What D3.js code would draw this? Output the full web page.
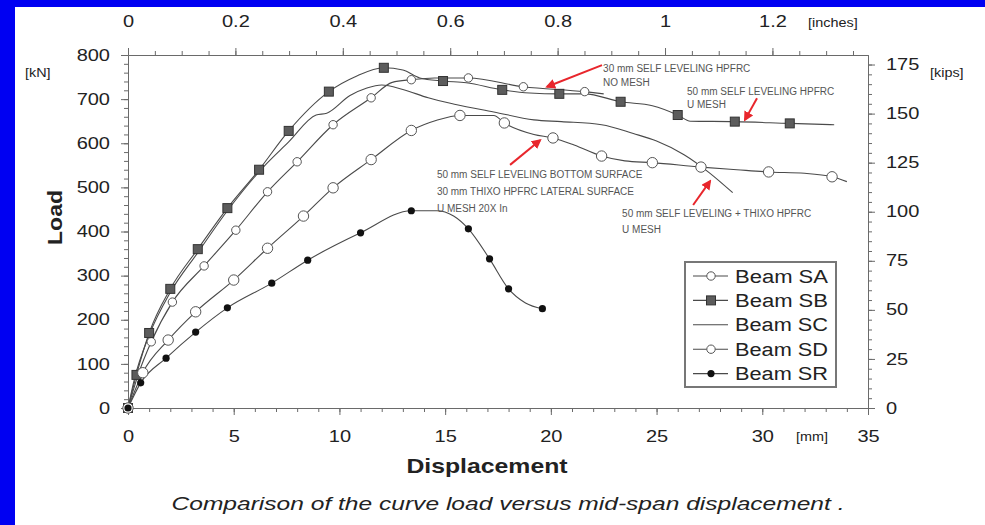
<!DOCTYPE html>
<html>
<head>
<meta charset="utf-8">
<script src="https://cdn.jsdelivr.net/npm/d3@7"></script>
<style>
  html, body { margin: 0; padding: 0; background: #fff; overflow: hidden; }
  svg { display: block; }
  text { font-family: "Liberation Sans", Arial, sans-serif; fill: #222; }
  .note { font-family: "Liberation Sans Narrow", "Liberation Sans", sans-serif; font-size: 10px; fill: #555; }
</style>
</head>
<body>
<svg id="chart" width="985" height="525"></svg>
<script>
// [displacement mm, load kN, marker?]
const beamSA = [
  [0, 0, 1], [0.5, 78, 1], [1.1, 150, 1], [2.1, 240, 1], [3.6, 322, 1], [5.1, 403, 1],
  [6.6, 490, 1], [8.0, 558, 1], [9.7, 642, 1], [11.5, 703, 1], [12.5, 738, 0], [13.4, 744, 1],
  [14.5, 748, 0], [16.1, 748, 1], [18.7, 728, 1], [21.6, 717, 1], [22.5, 712, 0]
]
const beamSB = [
  [0, 0, 1], [0.4, 75, 1], [1.0, 170, 1], [2.0, 270, 1], [3.3, 360, 1], [4.7, 453, 1],
  [6.2, 540, 1], [7.6, 628, 1], [9.5, 717, 1], [10.8, 752, 0], [12.1, 771, 1], [13.0, 766, 0],
  [13.8, 748, 0], [14.9, 741, 1], [16.0, 737, 0], [17.7, 721, 1], [19.0, 714, 0], [20.4, 712, 1],
  [21.6, 712, 0], [23.3, 694, 1], [24.8, 685, 0], [26.0, 664, 1], [26.6, 650, 0], [28.7, 649, 1],
  [31.3, 645, 1], [33.4, 642, 0]
]
const beamSC = [
  [0, 0, 0], [0.3, 65, 0], [1.0, 165, 0], [2.0, 262, 0], [3.3, 352, 0], [4.7, 447, 0],
  [6.4, 546, 0], [7.6, 603, 0], [8.9, 664, 0], [9.4, 668, 0], [10.5, 708, 0], [11.3, 725, 0],
  [12.0, 732, 0], [13.0, 722, 0], [14.2, 703, 0], [15.5, 688, 0], [17.3, 671, 0], [19.2, 653, 0],
  [20.5, 649, 0], [22.4, 642, 0], [23.9, 622, 0], [25.0, 605, 0], [26.3, 574, 0], [27.5, 533, 0],
  [28.6, 488, 0]
]
const beamSD = [
  [0, 0, 1], [0.7, 80, 1], [1.9, 154, 1], [3.2, 218, 1], [5.0, 290, 1], [6.6, 362, 1],
  [8.3, 435, 1], [9.7, 499, 1], [11.5, 563, 1], [13.4, 629, 1], [14.6, 652, 0], [15.7, 663, 1],
  [17.3, 663, 0], [17.8, 646, 1], [19.2, 620, 0], [20.1, 612, 1], [21.1, 596, 0], [22.4, 571, 1],
  [23.5, 560, 0], [24.8, 556, 1], [27.1, 546, 1], [28.8, 540, 0], [30.3, 535, 1], [32.0, 532, 0],
  [33.3, 524, 1], [34.0, 513, 0]
]
const beamSR = [
  [0, 0, 1], [0.6, 57, 1], [1.8, 113, 1], [3.2, 172, 1], [4.7, 227, 1], [6.8, 283, 1],
  [8.5, 335, 1], [11.0, 397, 1], [13.4, 447, 1], [14.6, 447, 0], [15.4, 435, 0], [16.1, 406, 1],
  [17.1, 338, 1], [18.0, 270, 1], [18.8, 238, 0], [19.6, 225, 1]
]
const seriesNames = ['Beam SA', 'Beam SB', 'Beam SC', 'Beam SD', 'Beam SR']

const mmTicks = [0, 5, 10, 15, 20, 25, 30, 35]
const kNTicks = [0, 100, 200, 300, 400, 500, 600, 700, 800]
const inchTicks = [0, 0.2, 0.4, 0.6, 0.8, 1, 1.2]
const kipTicks = [0, 25, 50, 75, 100, 125, 150, 175]

const noteTexts = [
  ['30 mm SELF LEVELING HPFRC', 'NO MESH'],
  ['50 mm SELF LEVELING HPFRC', 'U MESH'],
  ['50 mm SELF LEVELING BOTTOM SURFACE', '30 mm THIXO HPFRC LATERAL SURFACE', 'U MESH 20X In'],
  ['50 mm SELF LEVELING + THIXO HPFRC', 'U MESH']
]
const caption = 'Comparison of the curve load versus mid-span displacement .'

const KN_PER_KIP = 4.448
const MM_PER_INCH = 25.4

const svg = d3.select('#chart')

// blue frame of the slide
svg.append('rect').attr('x', 0).attr('y', 0).attr('width', 985).attr('height', 7).attr('fill', '#0000f2')
svg.append('rect').attr('x', 0).attr('y', 0).attr('width', 15).attr('height', 525).attr('fill', '#0000f2')

const x = d3.scaleLinear().domain([0, 35]).range([128, 868])
const y = d3.scaleLinear().domain([0, 800]).range([408, 55])
const xIn = d3.scaleLinear().domain([0, 35 / MM_PER_INCH]).range(x.range())
const yKip = d3.scaleLinear().domain([0, 800 / KN_PER_KIP]).range(y.range())

const stretch = (sel, k) => {
  sel.each(function () {
    const w = this.getComputedTextLength()
    d3.select(this).attr('textLength', w * k).attr('lengthAdjust', 'spacingAndGlyphs')
  })
}

const styleAxis = (g) => {
  g.selectAll('path, line').attr('stroke', '#6a6a6a')
  g.selectAll('text').attr('font-size', 16).attr('fill', '#222')
    .attr('font-family', '"Liberation Sans", Arial, sans-serif')
}

const minorAxis = (axis, values, size) =>
  axis.tickValues(values).tickSize(size).tickFormat('').tickSizeOuter(0)

// minor ticks
svg.append('g').attr('transform', `translate(0,${y(0)})`)
  .call(minorAxis(d3.axisBottom(x), d3.range(0, 35.01, 1), 4)).call(styleAxis)
svg.append('g').attr('transform', `translate(0,${y(800)})`)
  .call(minorAxis(d3.axisTop(xIn), d3.range(0, 1.38, 0.05), 4)).call(styleAxis)
svg.append('g').attr('transform', `translate(${x(0)},0)`)
  .call(minorAxis(d3.axisLeft(y), d3.range(0, 801, 20), 4)).call(styleAxis)
svg.append('g').attr('transform', `translate(${x(35)},0)`)
  .call(minorAxis(d3.axisRight(yKip), d3.range(0, 176, 5), 4)).call(styleAxis)

// major ticks + labels
const bottomAxis = svg.append('g').attr('transform', `translate(0,${y(0)})`)
  .call(d3.axisBottom(x).tickValues(mmTicks).tickSize(7).tickSizeOuter(0).tickPadding(16).tickFormat(d3.format('d')))
  .call(styleAxis)
const topAxis = svg.append('g').attr('transform', `translate(0,${y(800)})`)
  .call(d3.axisTop(xIn).tickValues(inchTicks).tickSize(7).tickSizeOuter(0).tickPadding(21).tickFormat(d => d))
  .call(styleAxis)
const leftAxis = svg.append('g').attr('transform', `translate(${x(0)},0)`)
  .call(d3.axisLeft(y).tickValues(kNTicks).tickSize(7).tickSizeOuter(0).tickPadding(11))
  .call(styleAxis)
const rightAxis = svg.append('g').attr('transform', `translate(${x(35)},0)`)
  .call(d3.axisRight(yKip).tickValues(kipTicks).tickSize(7).tickSizeOuter(0).tickPadding(11))
  .call(styleAxis)

;[bottomAxis, topAxis, leftAxis, rightAxis].forEach(g => stretch(g.selectAll('text'), 1.25))

// unit labels
const unit = (tx, ty, label) => svg.append('text').attr('x', tx).attr('y', ty)
  .attr('font-size', 12).attr('fill', '#333').text(label)
stretch(unit(808, 27, '[inches]'), 1.2)
stretch(unit(25, 77, '[kN]'), 1.2)
stretch(unit(796, 441, '[mm]'), 1.2)
stretch(unit(930, 77, '[kips]'), 1.2)

// axis titles
stretch(svg.append('text')
  .attr('transform', `translate(62,${(y(0) + y(800)) / 2 - 14}) rotate(-90)`)
  .attr('text-anchor', 'middle').attr('font-size', 20).attr('font-weight', 'bold').attr('fill', '#111')
  .text('Load'), 1.15)
stretch(svg.append('text')
  .attr('x', 487).attr('y', 473)
  .attr('text-anchor', 'middle').attr('font-size', 21).attr('font-weight', 'bold').attr('fill', '#111')
  .text('Displacement'), 1.18)

// caption
svg.append('text')
  .attr('x', 508).attr('y', 510)
  .attr('text-anchor', 'middle').attr('font-size', 18).attr('font-style', 'italic')
  .attr('font-family', '"DejaVu Sans", sans-serif').attr('fill', '#222')
  .attr('textLength', 673).attr('lengthAdjust', 'spacingAndGlyphs')
  .text(caption)

// curves
const line = d3.line().x(d => x(d[0])).y(d => y(d[1])).curve(d3.curveMonotoneX)
const seriesData = [beamSA, beamSB, beamSC, beamSD, beamSR]

const plot = svg.append('g')
seriesData.forEach((data) => {
  plot.append('path').datum(data)
    .attr('d', line)
    .attr('fill', 'none')
    .attr('stroke', '#4a4a4a')
    .attr('stroke-width', 1.1)
})

const drawMarker = (g, kind, cx, cy) => {
  if (kind === 'openSmall') {
    g.append('circle').attr('cx', cx).attr('cy', cy).attr('r', 4.2)
      .attr('fill', '#fff').attr('stroke', '#555').attr('stroke-width', 1)
  } else if (kind === 'openLarge') {
    g.append('circle').attr('cx', cx).attr('cy', cy).attr('r', 5.2)
      .attr('fill', '#fff').attr('stroke', '#555').attr('stroke-width', 1)
  } else if (kind === 'square') {
    g.append('rect').attr('x', cx - 4.5).attr('y', cy - 4.5).attr('width', 9).attr('height', 9)
      .attr('fill', '#5c5c5c').attr('stroke', '#333').attr('stroke-width', 1)
  } else if (kind === 'dot') {
    g.append('circle').attr('cx', cx).attr('cy', cy).attr('r', 3.6).attr('fill', '#111')
  }
}
const markerKinds = ['openSmall', 'square', null, 'openLarge', 'dot']

seriesData.forEach((data, i) => {
  if (!markerKinds[i]) return
  data.filter(d => d[2]).forEach(d => drawMarker(plot, markerKinds[i], x(d[0]), y(d[1])))
})

// annotations: anchor and arrow in data units
const noteLayout = [
  { at: [22.47, 761], gap: 14, arrow: [[22.42, 777], [19.82, 728]] },
  { at: [26.44, 709], gap: 13, arrow: [[29.75, 702], [29.18, 653]] },
  { at: [14.61, 521], gap: 17, arrow: [[18.07, 551], [19.49, 607]] },
  { at: [23.37, 433], gap: 16, arrow: [[26.73, 460], [27.53, 514]] }
]

svg.append('defs').append('marker')
  .attr('id', 'head').attr('viewBox', '0 0 10 10').attr('refX', 8).attr('refY', 5)
  .attr('markerWidth', 5).attr('markerHeight', 5).attr('orient', 'auto')
  .append('path').attr('d', 'M0,0L10,5L0,10z').attr('fill', '#e8262c')

noteTexts.forEach((lines, i) => {
  const lay = noteLayout[i]
  const t = svg.append('text').attr('class', 'note')
    .attr('x', x(lay.at[0])).attr('y', y(lay.at[1]))
  lines.forEach((s, j) => {
    t.append('tspan').attr('x', x(lay.at[0])).attr('dy', j === 0 ? 0 : lay.gap).text(s)
  })
  const [a, b] = lay.arrow
  svg.append('line')
    .attr('x1', x(a[0])).attr('y1', y(a[1])).attr('x2', x(b[0])).attr('y2', y(b[1]))
    .attr('stroke', '#e8262c').attr('stroke-width', 2).attr('marker-end', 'url(#head)')
})

// legend
const legend = svg.append('g').attr('transform', 'translate(685,262)')
legend.append('rect').attr('width', 151).attr('height', 125)
  .attr('fill', '#fff').attr('stroke', '#777').attr('stroke-width', 2)
seriesNames.forEach((name, i) => {
  const ly = 14 + i * 24.4
  legend.append('line').attr('x1', 8).attr('x2', 43).attr('y1', ly).attr('y2', ly)
    .attr('stroke', '#4a4a4a').attr('stroke-width', 1.1)
  if (markerKinds[i]) {
    drawMarker(legend, markerKinds[i] === 'openLarge' ? 'openSmall' : markerKinds[i], 26, ly)
  }
  legend.append('text').attr('x', 50).attr('y', ly + 6.5)
    .attr('font-size', 18).attr('fill', '#222')
    .attr('textLength', 93).attr('lengthAdjust', 'spacingAndGlyphs')
    .text(name)
})
</script>
</body>
</html>
